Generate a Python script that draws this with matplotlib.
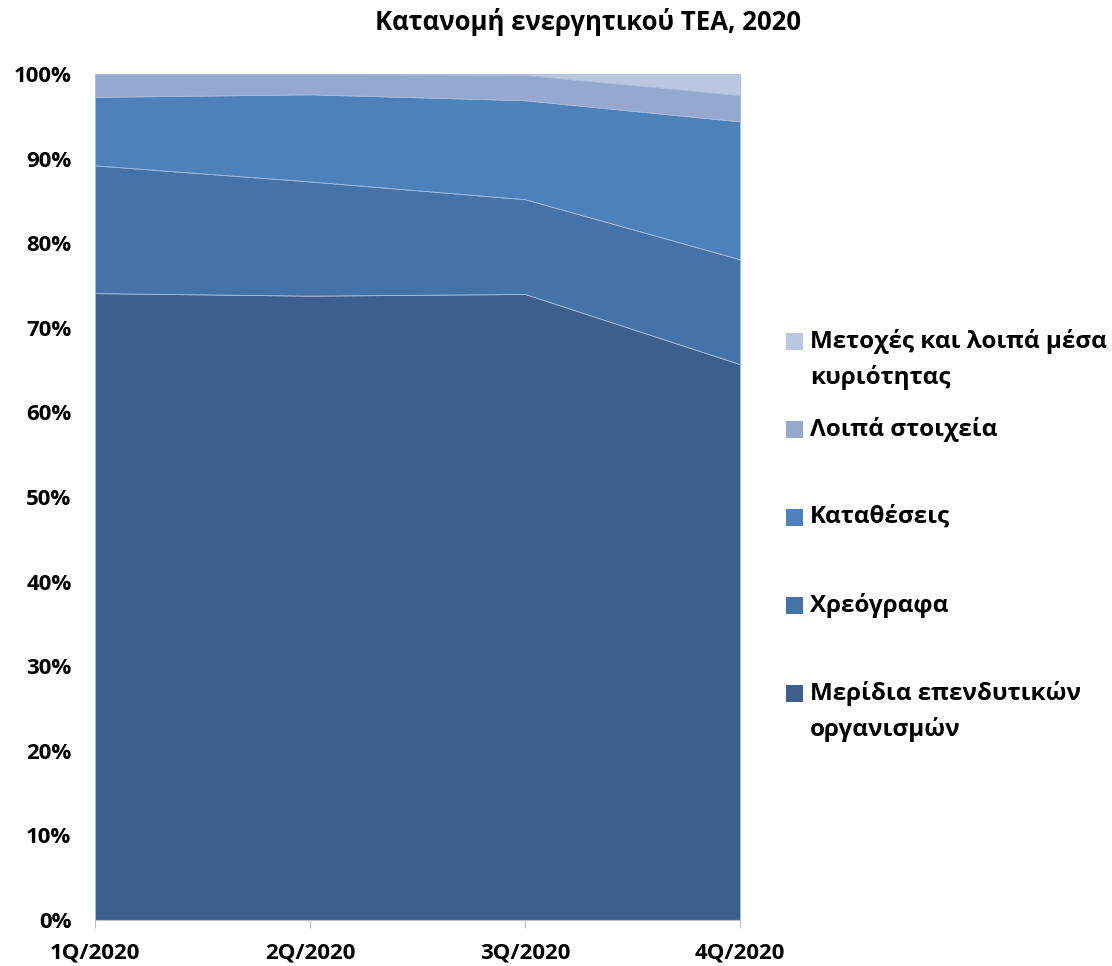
import matplotlib
matplotlib.use("Agg")
import matplotlib.pyplot as plt
from matplotlib.patches import Rectangle
from matplotlib.ticker import FuncFormatter

plt.rcParams['font.family'] = ['Open Sans', 'DejaVu Sans']

categories = ["1Q/2020", "2Q/2020", "3Q/2020", "4Q/2020"]
meridia = [74.1, 73.8, 74.0, 65.7]
xreografa = [15.1, 13.5, 11.2, 12.4]
katatheseis = [8.1, 10.3, 11.7, 16.3]
loipa = [2.7, 2.4, 3.0, 3.1]
metoxes = [0.0, 0.0, 0.1, 2.5]

series_names = ["Μερίδια επενδυτικών\nοργανισμών", "Χρεόγραφα", "Καταθέσεις",
                "Λοιπά στοιχεία", "Μετοχές και λοιπά μέσα\nκυριότητας"]
colors = ["#3C5F8D", "#4573A8", "#4D81BC", "#95A9CF", "#BAC7E0"]
title = "Κατανομή ενεργητικού ΤΕΑ, 2020"

W, H = 1112, 966
fig = plt.figure(figsize=(W / 100, H / 100), dpi=100)
ax = fig.add_axes([95 / W, 1 - 920 / H, (740 - 95) / W, (920 - 74) / H])

x = list(range(len(categories)))
ax.stackplot(x, meridia, xreografa, katatheseis, loipa, metoxes,
             colors=colors, edgecolor="#a9bcdc", linewidth=0.6)

ax.set_xlim(0, len(categories) - 1)
ax.set_ylim(0, 100)
ax.set_yticks(range(0, 101, 10))
ax.yaxis.set_major_formatter(FuncFormatter(lambda v, p: f"{int(v)}%"))
ax.set_xticks(x)
ax.set_xticklabels(categories)
for lab in ax.get_xticklabels() + ax.get_yticklabels():
    lab.set_fontweight("bold")
    lab.set_fontsize(16)
ax.tick_params(axis="y", length=0, pad=17)
ax.tick_params(axis="x", length=6, color="#bfbfbf", pad=10, direction="out")
for s in ["left", "right", "top"]:
    ax.spines[s].set_visible(False)
ax.spines["bottom"].set_color("#bfbfbf")

fig.text(588 / W, 1 - 22 / H, title, ha="center", va="center",
         fontsize=18.5, fontweight="bold")

# legend (top entry = last series)
order = list(range(len(series_names)))[::-1]
for i, idx in enumerate(order):
    yc = 341 + 88 * i
    fig.add_artist(Rectangle((786 / W, 1 - (yc + 8.5) / H), 17 / W, 17 / H,
                             transform=fig.transFigure, facecolor=colors[idx],
                             edgecolor="none"))
    for j, line in enumerate(series_names[idx].split("\n")):
        fig.text(810 / W, 1 - (yc + 37 * j) / H, line, ha="left", va="center",
                 fontsize=17.5, fontweight="bold")

fig.savefig("out.png", dpi=100)
